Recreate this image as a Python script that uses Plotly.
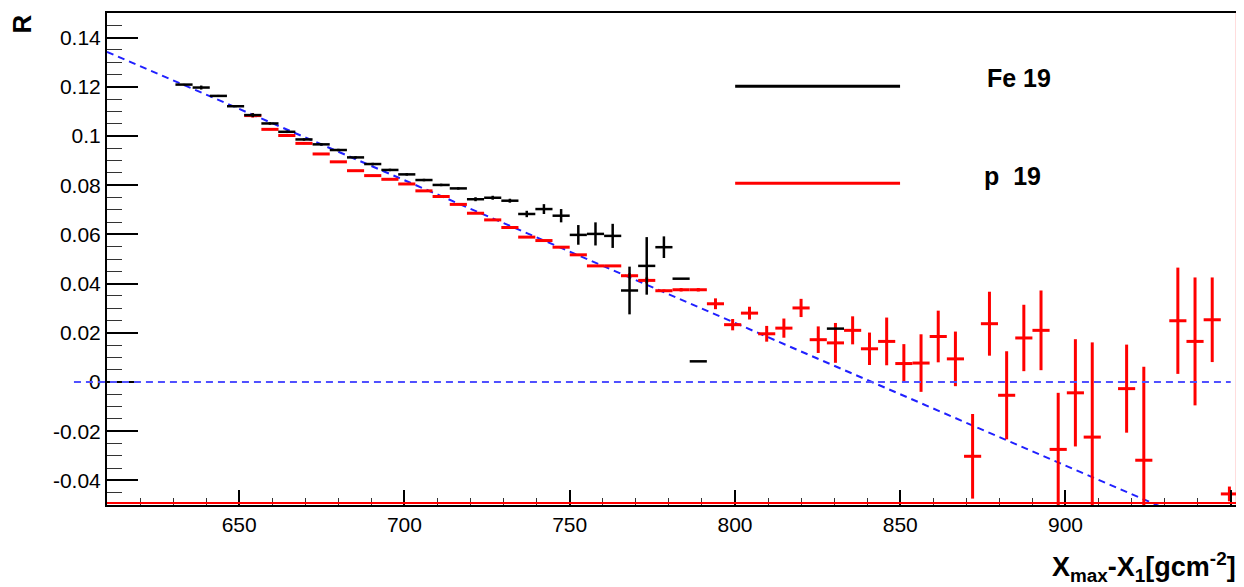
import plotly.graph_objects as go

# ---- data ----
# Fe 19 (black): bin centres, R values, vertical errors
fe_x = [633.3, 638.5, 643.7, 648.9, 654.1, 659.3, 664.4, 669.6, 674.8, 680.0,
        685.2, 690.4, 695.6, 700.7, 705.9, 711.1, 716.3, 721.5, 726.7, 731.9,
        737.0, 742.2, 747.4, 752.6, 757.8, 763.0, 768.1, 773.3, 778.5, 783.7,
        788.9, 830.4]
fe_r = [0.1209, 0.1197, 0.1163, 0.1121, 0.1085, 0.1051, 0.1017, 0.0986, 0.0966, 0.0943,
        0.0913, 0.0886, 0.0862, 0.0844, 0.0821, 0.0801, 0.0787, 0.0743, 0.0749, 0.0737,
        0.0683, 0.0703, 0.0676, 0.0598, 0.0602, 0.0594, 0.0372, 0.0472, 0.0548, 0.0420,
        0.0084, 0.0217]
fe_err = [0.0003, 0.0008, 0.0004, 0.0004, 0.0008, 0.0005, 0.0005, 0.0005, 0.0005, 0.0005,
          0.0005, 0.0005, 0.0005, 0.0005, 0.0005, 0.0005, 0.0005, 0.0008, 0.0008, 0.0008,
          0.0013, 0.0020, 0.0027, 0.0040, 0.0047, 0.0049, 0.0097, 0.0117, 0.0044, 0.0,
          0.0, 0.0]

# p 19 (red)
p_x = [654.1, 659.3, 664.4, 669.6, 674.8, 680.0, 685.2, 690.4, 695.6, 700.7,
       705.9, 711.1, 716.3, 721.5, 726.7, 731.9, 737.0, 742.2, 747.4, 752.6,
       757.8, 763.0, 768.1, 773.3, 778.5, 783.7, 788.9, 794.1, 799.3, 804.4,
       809.6, 814.8, 820.0, 825.2, 830.4, 835.6, 840.7, 845.9, 851.1, 856.3,
       861.5, 866.7, 871.9, 877.0, 882.2, 887.4, 892.6, 897.8, 903.0, 908.1,
       918.5, 923.7, 934.0, 939.2, 944.4, 949.6]
p_r = [0.1083, 0.1027, 0.1002, 0.0970, 0.0927, 0.0895, 0.0859, 0.0839, 0.0824, 0.0805,
       0.0777, 0.0754, 0.0722, 0.0686, 0.0659, 0.0628, 0.0589, 0.0575, 0.0548, 0.0517,
       0.0472, 0.0472, 0.0432, 0.0413, 0.0371, 0.0375, 0.0375, 0.0318, 0.0233, 0.0280,
       0.0196, 0.0219, 0.0301, 0.0172, 0.0159, 0.0210, 0.0135, 0.0165, 0.0075, 0.0077,
       0.0185, 0.0094, -0.0302, 0.0237, -0.0054, 0.0179, 0.0210, -0.0274, -0.0044, -0.0224,
       -0.0027, -0.0318, 0.0249, 0.0165, 0.0253, -0.0455]
p_err = [0.0008, 0.0003, 0.0003, 0.0003, 0.0003, 0.0003, 0.0003, 0.0003, 0.0003, 0.0003,
         0.0003, 0.0003, 0.0003, 0.0003, 0.0003, 0.0003, 0.0003, 0.0003, 0.0003, 0.0003,
         0.0003, 0.0003, 0.0010, 0.0012, 0.0005, 0.0007, 0.0007, 0.0022, 0.0023, 0.0026,
         0.0032, 0.0039, 0.0037, 0.0054, 0.0081, 0.0057, 0.0066, 0.0097, 0.0079, 0.0117,
         0.0105, 0.0111, 0.0172, 0.0130, 0.0179, 0.0135, 0.0162, 0.0230, 0.0218, 0.0385,
         0.0179, 0.0380, 0.0216, 0.0260, 0.0172, 0.0030]

bin_half_width = 2.5925

# fitted straight line (blue dashed)
fit_x = [610.0, 928.5]
fit_r = [0.1342, -0.0505]
# reference line R = 0
zero_x = [600.0, 950.0]

x_range = [610.0, 952.2]
y_range = [-0.05, 0.15]
x_ticks = [650, 700, 750, 800, 850, 900, 950]
y_ticks = [-0.04, -0.02, 0.0, 0.02, 0.04, 0.06, 0.08, 0.1, 0.12, 0.14]
y_ticktext = ["-0.04", "-0.02", "0", "0.02", "0.04", "0.06", "0.08", "0.1", "0.12", "0.14"]

legend_labels = ["Fe 19", "p\u00a0\u00a019"]
colors = {"fe": "#000000", "p": "#ff0000"}

FONT = "Liberation Sans, Arial, Helvetica, sans-serif"

fig = go.Figure()

# fit line
fig.add_trace(go.Scatter(x=fit_x, y=fit_r, mode="lines",
                         line=dict(color="#2020ff", width=2, dash="7px,5px"),
                         hoverinfo="skip", showlegend=False))

def px_of(v):
    return (v - x_range[0]) / (x_range[1] - x_range[0])

def py_of(v):
    return (v - y_range[0]) / (y_range[1] - y_range[0])

# p 19
fig.add_trace(go.Scatter(
    x=p_x, y=p_r, mode="markers", marker=dict(size=1, opacity=0, color=colors["p"]),
    error_y=dict(type="data", array=p_err, color=colors["p"], thickness=3, width=0),
    error_x=dict(type="data", array=[bin_half_width] * len(p_x), color=colors["p"], thickness=3, width=0),
    showlegend=False))

# Fe 19
fig.add_trace(go.Scatter(
    x=fe_x, y=fe_r, mode="markers", marker=dict(size=1, opacity=0, color=colors["fe"]),
    error_y=dict(type="data", array=fe_err, color=colors["fe"], thickness=2.5, width=0),
    error_x=dict(type="data", array=[bin_half_width] * len(fe_x), color=colors["fe"], thickness=2.5, width=0),
    showlegend=False))

shapes = []
# horizontal dashed zero line, extending into left margin like the original TLine
shapes.append(dict(type="line", xref="paper", yref="paper",
                   x0=px_of(zero_x[0]), x1=px_of(zero_x[1]),
                   y0=py_of(0.0), y1=py_of(0.0),
                   line=dict(color="#5050ff", width=1.8, dash="7px,5px")))
# red frame parts (bottom and right)
shapes.append(dict(type="line", xref="paper", yref="paper", x0=0, x1=1, y0=0.004, y1=0.004,
                   line=dict(color="#ff0000", width=2)))
shapes.append(dict(type="line", xref="paper", yref="paper", x0=0.999, x1=0.999, y0=0, y1=1,
                   line=dict(color="#ff0000", width=2)))
# legend lines
shapes.append(dict(type="line", xref="paper", yref="paper", x0=0.5554, x1=0.7012, y0=0.8511, y1=0.8511,
                   line=dict(color=colors["fe"], width=3)))
shapes.append(dict(type="line", xref="paper", yref="paper", x0=0.5554, x1=0.7012, y0=0.6541, y1=0.6541,
                   line=dict(color=colors["p"], width=3)))

annotations = [
    dict(text="<b>" + legend_labels[0] + "</b>", xref="paper", yref="paper", x=0.7764, y=0.8674,
         xanchor="left", yanchor="middle", showarrow=False, font=dict(family=FONT, size=25, color="black")),
    dict(text="<b>" + legend_labels[1] + "</b>", xref="paper", yref="paper", x=0.7738, y=0.668,
         xanchor="left", yanchor="middle", showarrow=False, font=dict(family=FONT, size=25, color="black")),
    dict(text="<b>R</b>", xref="paper", yref="paper", x=-0.076, y=1.0, textangle=-90,
         xanchor="center", yanchor="top", showarrow=False, font=dict(family=FONT, size=26, color="black")),
    dict(text="<b>X<sub>max</sub>-X<sub>1</sub>[gcm<sup>-2</sup>]</b>", xref="paper", yref="paper",
         x=1.0, y=-0.084, xanchor="right", yanchor="top", showarrow=False,
         font=dict(family=FONT, size=27, color="black")),
]

# the page body keeps its default 8 px margin, so the figure is sized to end at the window edge
fig.update_layout(
    width=1236, height=579,
    margin=dict(l=99, r=6, t=5, b=82, autoexpand=False),
    paper_bgcolor="white", plot_bgcolor="white",
    shapes=shapes, annotations=annotations,
    showlegend=False,
    font=dict(family=FONT, size=21, color="black"),
)
fig.update_xaxes(range=x_range, tickvals=x_ticks, ticks="inside", ticklen=15, tickwidth=1.5,
                 tickcolor="black", showgrid=False, zeroline=False, automargin=False,
                 showline=True, linecolor="black", linewidth=2, mirror=True,
                 minor=dict(dtick=10, ticks="inside", ticklen=7, tickwidth=1.2, tickcolor="#333333", showgrid=False),
                 tickfont=dict(family=FONT, size=21))
fig.update_yaxes(range=y_range, tickvals=y_ticks, ticktext=y_ticktext, ticks="inside", ticklen=31,
                 tickwidth=1.5, tickcolor="black", showgrid=False, zeroline=False, automargin=False,
                 showline=True, linecolor="black", linewidth=2, mirror=True,
                 minor=dict(dtick=0.005, tick0=0, ticks="inside", ticklen=15, tickwidth=1.2, tickcolor="#333333", showgrid=False),
                 tickfont=dict(family=FONT, size=21))

fig.write_html("out.html")
